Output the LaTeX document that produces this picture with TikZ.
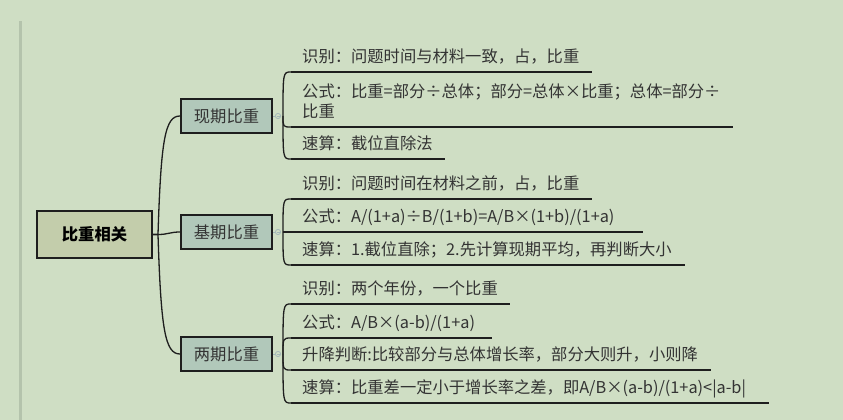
\documentclass[tikz,border=0pt]{standalone}
\usepackage{fontspec}
\setmainfont{Noto Sans CJK SC}
\usetikzlibrary{calc}
\definecolor{bg}{HTML}{CFDEC4}
\definecolor{bar}{HTML}{B4C3AC}
\definecolor{rootfill}{HTML}{C3CDAB}
\definecolor{childfill}{HTML}{B1C8BA}
\definecolor{ink}{HTML}{1E1E1E}
\definecolor{txt}{HTML}{333333}
\definecolor{fold}{HTML}{A3B7B8}
\tikzset{
  rootbox/.style={draw=ink, line width=2pt, fill=rootfill, minimum width=115pt, minimum height=47pt, inner sep=0pt, font=\fontsize{16.3}{19}\selectfont\bfseries, text=black},
  childbox/.style={draw=ink, line width=2pt, fill=childfill, minimum width=91pt, minimum height=34pt, inner sep=0pt, font=\fontsize{16.3}{19}\selectfont, text=txt},
  leaf/.style={anchor=south west, inner xsep=11pt, inner ysep=5.5pt, text depth=4pt, align=left, font=\fontsize{16.3}{20}\selectfont, text=txt},
  uline/.style={draw=ink, line width=1.8pt},
  conn/.style={draw=ink, line width=1.3pt},
  foldmark/.style={draw=fold, line width=0.8pt},
}
\begin{document}
\begin{tikzpicture}[x=1pt,y=-1pt]
\fill[bg] (0,0) rectangle (843,420);
\useasboundingbox (0,0) rectangle (843,420);
\fill[bar] (19,21) rectangle (22,420);

% root and children
\node[rootbox] (root) at (94.5,234.5) {比重相关};
\node[childbox] (c1) at (226.5,116) {现期比重};
\node[childbox] (c2) at (226.5,232) {基期比重};
\node[childbox] (c3) at (226.5,354) {两期比重};

\draw[conn] (root.east) -- ++(5,0) .. controls +(3,-95) and +(-15,0) .. (c1.west);
\draw[conn] (root.east) -- ++(5,0) .. controls +(10,0) and +(-10,0) .. (c2.west);
\draw[conn] (root.east) -- ++(5,0) .. controls +(3,95) and +(-15,0) .. (c3.west);

% leaves group 1
\node[leaf, text width=279pt] (l11) at (291,72) {识别：问题时间与材料一致，占，比重};
\node[leaf, text width=420pt, text depth=24pt] (l12) at (291,127) {公式：比重=部分÷总体；部分=总体×比重；总体=部分÷\\比重};
\node[leaf, text width=132pt] (l13) at (291,159) {速算：截位直除法};
% leaves group 2
\node[leaf, text width=279pt] (l21) at (291,199) {识别：问题时间在材料之前，占，比重};
\node[leaf, text width=330pt] (l22) at (291,232) {公式：A/(1+a)÷B/(1+b)=A/B×(1+b)/(1+a)};
\node[leaf, text width=372pt] (l23) at (291,265) {速算：1.截位直除；2.先计算现期平均，再判断大小};
% leaves group 3
\node[leaf, text width=197pt] (l31) at (291,304) {识别：两个年份，一个比重};
\node[leaf, text width=179pt] (l32) at (291,338) {公式：A/B×(a-b)/(1+a)};
\node[leaf, text width=398pt] (l33) at (291,370) {升降判断:比较部分与总体增长率，部分大则升，小则降};
\node[leaf, text width=456pt] (l34) at (291,403) {速算：比重差一定小于增长率之差，即A/B×(a-b)/(1+a)<|a-b|};

\foreach \l in {l11,l12,l13,l21,l22,l23,l31,l32,l33,l34}
  \draw[uline] (\l.south west) -- (\l.south east);

% fold marks and branch connectors
\foreach \c/\leaves in {c1/{l11,l12,l13}, c2/{l21,l22,l23}, c3/{l31,l32,l33,l34}} {
  \coordinate (\c fold) at ($(\c.east)+(5,0)$);
  \coordinate (\c hub) at ($(\c.east)+(10,0)$);
  \draw[foldmark] (\c.east) -- ++(2,0);
  \draw[foldmark] (\c fold) circle (2.6pt);
  \draw[foldmark] ($(\c fold)+(-1.5,0)$) -- ($(\c fold)+(1.5,0)$);
  \foreach \l in \leaves
    \draw[conn] (\c hub) .. controls (\c hub |- \l.south west) and (\c hub |- \l.south west) .. (\l.south west);
}
\end{tikzpicture}
\end{document}
